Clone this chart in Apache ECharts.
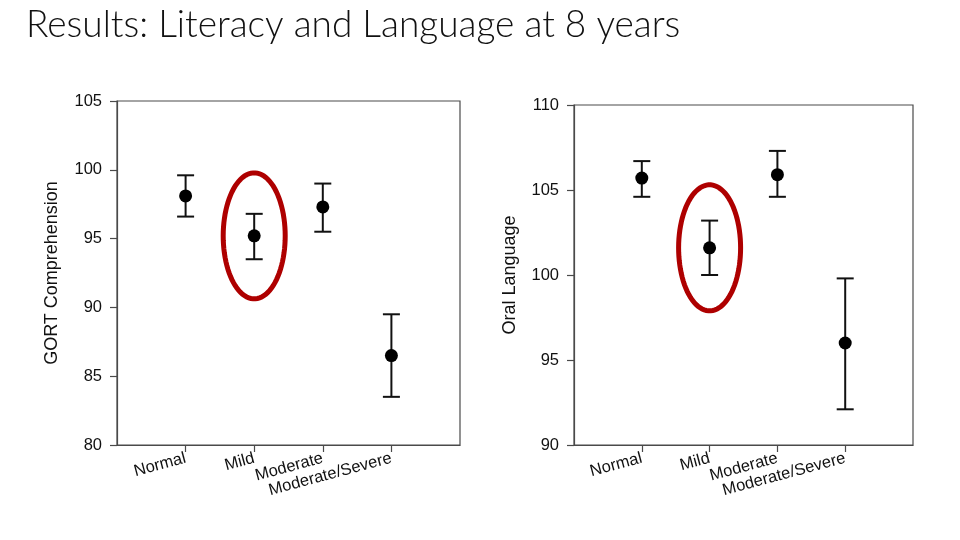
<!DOCTYPE html>
<html>
<head>
<meta charset="utf-8">
<script src="https://cdn.jsdelivr.net/npm/echarts@6/dist/echarts.min.js"></script>
<style>html,body{margin:0;padding:0;background:#fff;}#c{width:960px;height:540px;}</style>
</head>
<body>
<div id="c"></div>
<script>
// ---- data ----
const categories = ['Normal', 'Mild', 'Moderate', 'Moderate/Severe'];
const gortMean  = [98.1, 95.2, 97.3, 86.5];
const gortLow   = [96.6, 93.5, 95.5, 83.5];
const gortHigh  = [99.6, 96.8, 99.0, 89.5];
const oralMean  = [105.7, 101.6, 105.9, 96.0];
const oralLow   = [104.6, 100.0, 104.6, 92.1];
const oralHigh  = [106.7, 103.2, 107.3, 99.8];
const gortTicks = [80, 85, 90, 95, 100, 105];
const oralTicks = [90, 95, 100, 105, 110];
const highlightIndex = 1; // "Mild" circled in red

const catPos = categories.map((c, i) => i + 1);
const font = 'Liberation Sans, Arial, sans-serif';
const axisColor = '#4a4a4a';

function xAxis(gridIndex) {
  return {
    type: 'value', gridIndex, min: 0, max: categories.length + 1, interval: 1,
    axisLine: { show: true, lineStyle: { color: axisColor, width: 1.2 } },
    axisTick: { show: true, inside: false, length: 7, customValues: catPos, lineStyle: { color: axisColor, width: 1.2 } },
    axisLabel: { show: true, customValues: catPos, rotate: 15, margin: 13, fontSize: 16.5, color: '#111', fontFamily: font,
      formatter: v => categories[Math.round(v) - 1] || '' },
    splitLine: { show: false }
  };
}
function yAxis(gridIndex, ticks, name, gap) {
  return {
    type: 'value', gridIndex, min: ticks[0], max: ticks[ticks.length - 1], interval: ticks[1] - ticks[0],
    name, nameLocation: 'middle', nameGap: gap, nameRotate: 90,
    nameTextStyle: { fontSize: 18, color: '#111', fontFamily: font },
    axisLine: { show: true, lineStyle: { color: axisColor, width: 1.2 } },
    axisTick: { show: true, inside: false, length: 7, lineStyle: { color: axisColor, width: 1.2 } },
    axisLabel: { fontSize: 16.5, color: '#111', fontFamily: font, margin: 15 },
    splitLine: { show: false }
  };
}
function errorSeries(idx, low, high) {
  return {
    type: 'custom', xAxisIndex: idx, yAxisIndex: idx, z: 3,
    data: categories.map((c, i) => [i + 1, low[i], high[i]]),
    renderItem: (params, api) => {
      const x = api.value(0);
      const lo = api.coord([x, api.value(1)]);
      const hi = api.coord([x, api.value(2)]);
      const hw = 8.5;
      const st = { stroke: '#111', lineWidth: 2 };
      return { type: 'group', children: [
        { type: 'line', shape: { x1: lo[0], y1: lo[1], x2: hi[0], y2: hi[1] }, style: st },
        { type: 'line', shape: { x1: lo[0] - hw, y1: lo[1], x2: lo[0] + hw, y2: lo[1] }, style: st },
        { type: 'line', shape: { x1: hi[0] - hw, y1: hi[1], x2: hi[0] + hw, y2: hi[1] }, style: st }
      ]};
    }
  };
}
function meanSeries(idx, mean) {
  return {
    type: 'scatter', xAxisIndex: idx, yAxisIndex: idx, z: 4,
    symbol: 'circle', symbolSize: 13, itemStyle: { color: '#000', opacity: 1 },
    data: categories.map((c, i) => [i + 1, mean[i]])
  };
}
function ellipseSeries(idx, mean) {
  return {
    type: 'custom', xAxisIndex: idx, yAxisIndex: idx, z: 5, silent: true,
    data: [[highlightIndex + 1, mean[highlightIndex]]],
    renderItem: (params, api) => {
      const c = api.coord([api.value(0), api.value(1)]);
      const rx = 31, ry = 63, pts = [];
      for (let k = 0; k < 90; k++) {
        const t = k / 90 * Math.PI * 2;
        pts.push([c[0] + rx * Math.cos(t), c[1] + ry * Math.sin(t)]);
      }
      return { type: 'polygon', shape: { points: pts }, style: { fill: 'none', stroke: '#ae0000', lineWidth: 5 } };
    }
  };
}

const chart = echarts.init(document.getElementById('c'));
chart.setOption({
  backgroundColor: '#fff',
  animation: false,
  title: { text: 'Results: Literacy and Language at 8 years', left: 21, top: 2,
    textStyle: { fontSize: 37, fontWeight: 300, fontFamily: 'Lato, Open Sans, sans-serif', color: '#111' } },
  grid: [
    { left: 117, top: 101, width: 343, height: 344, show: true, borderColor: axisColor, borderWidth: 1.2, backgroundColor: 'transparent' },
    { left: 574, top: 105, width: 339, height: 340, show: true, borderColor: axisColor, borderWidth: 1.2, backgroundColor: 'transparent' }
  ],
  xAxis: [xAxis(0), xAxis(1)],
  yAxis: [yAxis(0, gortTicks, 'GORT Comprehension', 56), yAxis(1, oralTicks, 'Oral Language', 55)],
  series: [
    errorSeries(0, gortLow, gortHigh), meanSeries(0, gortMean), ellipseSeries(0, gortMean),
    errorSeries(1, oralLow, oralHigh), meanSeries(1, oralMean), ellipseSeries(1, oralMean)
  ]
});
</script>
</body>
</html>
